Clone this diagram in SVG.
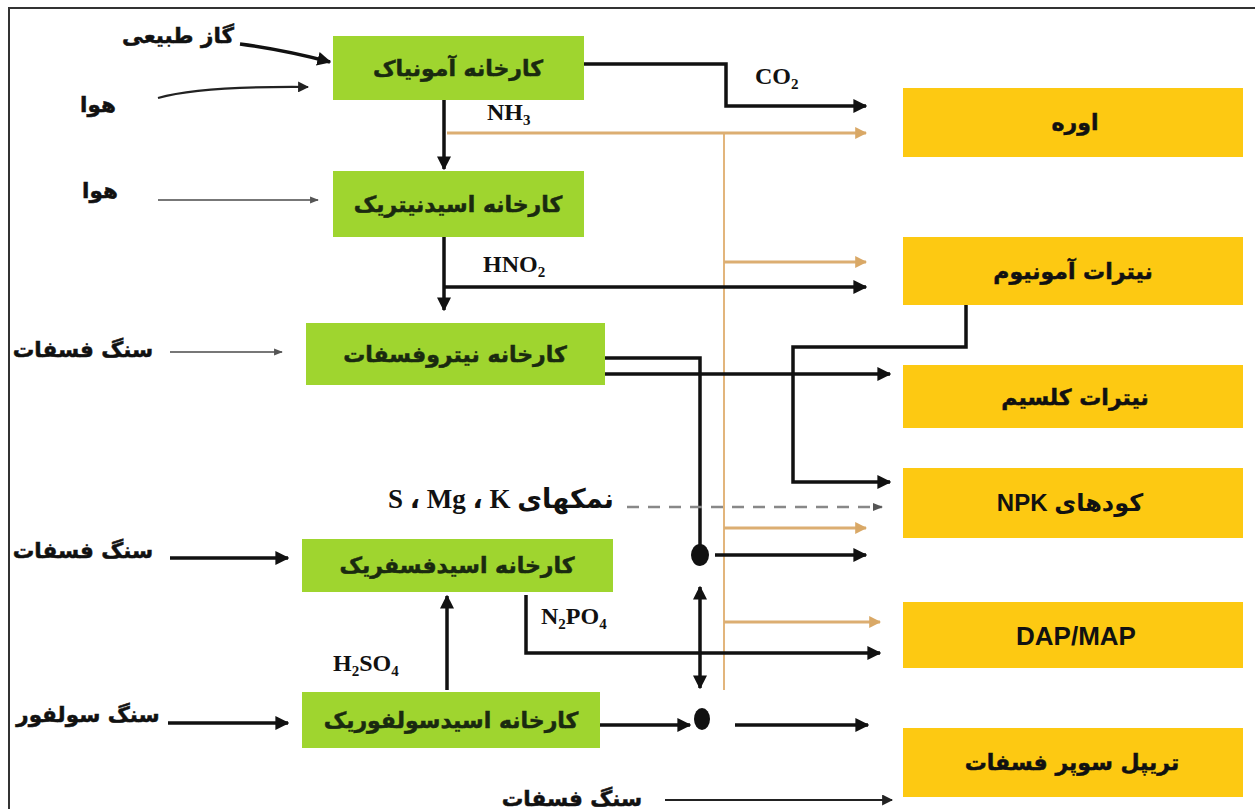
<svg xmlns="http://www.w3.org/2000/svg" width="1255" height="809" viewBox="0 0 1255 809">
<style>
.g{fill:#9fd52f}
.y{fill:#fdc912}
.fa{font-family:"DejaVu Sans",sans-serif;font-weight:bold;fill:#111;stroke:#111;stroke-width:0.5}
.bt{font-size:22px;text-anchor:middle;fill:#1a2a10;stroke:#1a2a10}
.yt{font-size:22px;text-anchor:middle}
.lb{font-size:21.5px;text-anchor:middle}
.chem{font-family:"Liberation Serif","DejaVu Sans",serif;font-weight:bold;font-size:24px;fill:#111}
.k{fill:none;stroke:#111;stroke-width:3.5}
.kt{fill:none;stroke:#222;stroke-width:2.2}
.gr{fill:none;stroke:#777;stroke-width:2.2}
.tan{fill:none;stroke:#dcae72;stroke-width:3}
.tanv{fill:none;stroke:#e2b57c;stroke-width:2}
</style>
<defs>
<marker id="ak" viewBox="0 0 10 10" refX="9" refY="5" markerWidth="4" markerHeight="4" orient="auto" markerUnits="strokeWidth"><path d="M0,0 L10,5 L0,10 z" fill="#111"/></marker>
<marker id="akt" viewBox="0 0 10 10" refX="9" refY="5" markerWidth="5" markerHeight="5" orient="auto" markerUnits="strokeWidth"><path d="M0,0 L10,5 L0,10 z" fill="#222"/></marker>
<marker id="ag" viewBox="0 0 10 10" refX="9" refY="5" markerWidth="4" markerHeight="4" orient="auto" markerUnits="strokeWidth"><path d="M0,1 L10,5 L0,9 z" fill="#555"/></marker>
<marker id="at" viewBox="0 0 10 10" refX="9" refY="5" markerWidth="4" markerHeight="4" orient="auto" markerUnits="strokeWidth"><path d="M0,0 L10,5 L0,10 z" fill="#d9a866"/></marker>
<marker id="akr" viewBox="0 0 10 10" refX="1" refY="5" markerWidth="4" markerHeight="4" orient="auto" markerUnits="strokeWidth"><path d="M10,0 L0,5 L10,10 z" fill="#111"/></marker>
</defs>
<rect width="1255" height="809" fill="#fff"/>
<path d="M9,809 L9,8 L1255,8" fill="none" stroke="#333" stroke-width="2"/>

<g id="connectors">
<path class="tanv" d="M724,133 L724,690"/>
<path class="tan" d="M447,133 L866,133" marker-end="url(#at)"/>
<path class="tan" d="M724,262 L866,262" marker-end="url(#at)"/>
<path class="tan" d="M724,528 L866,528" marker-end="url(#at)"/>
<path class="tan" d="M724,622 L880,622" marker-end="url(#at)"/>
<path class="k" d="M240,44 Q285,50 330,62" marker-end="url(#ak)"/>
<path class="kt" d="M158,98 Q200,86 308,87" marker-end="url(#akt)"/>
<path class="gr" d="M158,200 L318,200" marker-end="url(#ag)"/>
<path class="gr" d="M170,352 L282,352" marker-end="url(#ag)"/>
<path class="k" d="M170,558 L288,558" marker-end="url(#ak)"/>
<path class="k" d="M168,723 L288,723" marker-end="url(#ak)"/>
<path class="kt" d="M665,800 L892,800" marker-end="url(#akt)"/>
<path class="k" d="M444,100 L444,169" marker-end="url(#ak)"/>
<path class="k" d="M584,64 L726,64 L726,106 L866,106" marker-end="url(#ak)"/>
<path class="k" d="M444,237 L444,310" marker-end="url(#ak)"/>
<path class="k" d="M444,287 L866,287" marker-end="url(#ak)"/>
<path class="k" d="M605,358 L700,358 L700,548"/>
<path class="k" d="M605,374 L890,374" marker-end="url(#ak)"/>
<path class="k" d="M966,305 L966,347 L793,347 L793,482 L890,482" marker-end="url(#ak)"/>
<path d="M627,507 L882,507" fill="none" stroke="#888" stroke-width="2.5" stroke-dasharray="12,9" marker-end="url(#ag)"/>
<ellipse cx="700" cy="555" rx="9" ry="11" fill="#111"/>
<path class="k" d="M715,555 L866,555" marker-end="url(#ak)"/>
<path class="k" d="M526,595 L526,653 L880,653" marker-end="url(#ak)"/>
<path class="k" d="M700,587 L700,688" marker-start="url(#akr)" marker-end="url(#ak)"/>
<path class="k" d="M447,690 L447,596" marker-end="url(#ak)"/>
<path class="k" d="M600,725 L690,725" marker-end="url(#ak)"/>
<ellipse cx="702" cy="719" rx="8" ry="11" fill="#111"/>
<path class="k" d="M735,725 L868,725" marker-end="url(#ak)"/>
</g>

<g id="labels">
<text class="fa lb" x="178" y="43">گاز طبیعی</text>
<text class="fa lb" x="98" y="112">هوا</text>
<text class="fa lb" x="100" y="198">هوا</text>
<text class="fa lb" x="83" y="357">سنگ فسفات</text>
<text class="fa lb" x="83" y="558">سنگ فسفات</text>
<text class="fa lb" x="88" y="722">سنگ سولفور</text>
<text class="fa lb" x="572" y="806">سنگ فسفات</text>
<text class="chem" x="755" y="84">CO<tspan font-size="15" dy="5">2</tspan></text>
<text class="chem" x="487" y="120">NH<tspan font-size="15" dy="5">3</tspan></text>
<text class="chem" x="483" y="272">HNO<tspan font-size="15" dy="5">2</tspan></text>
<text class="chem" x="541" y="624">N<tspan font-size="15" dy="5">2</tspan><tspan dy="-5">PO</tspan><tspan font-size="15" dy="5">4</tspan></text>
<text class="chem" x="333" y="671">H<tspan font-size="15" dy="5">2</tspan><tspan dy="-5">SO</tspan><tspan font-size="15" dy="5">4</tspan></text>
<text class="chem" x="614" y="508" direction="rtl" text-anchor="start" style="font-size:27px">نمکهای K&#x200F; ، Mg&#x200F; ، S</text>
</g>

<g id="n-ammonia"><rect class="g" x="333" y="36" width="251" height="64"/><text class="fa bt" x="458" y="76">کارخانه آمونیاک</text></g>
<g id="n-nitric"><rect class="g" x="333" y="171" width="251" height="66"/><text class="fa bt" x="458" y="212">کارخانه اسیدنیتریک</text></g>
<g id="n-nitrophosphate"><rect class="g" x="306" y="323" width="299" height="62"/><text class="fa bt" x="455" y="362">کارخانه نیتروفسفات</text></g>
<g id="n-phosphoric"><rect class="g" x="302" y="539" width="311" height="53"/><text class="fa bt" x="457" y="573">کارخانه اسیدفسفریک</text></g>
<g id="n-sulfuric"><rect class="g" x="302" y="692" width="298" height="56"/><text class="fa bt" x="451" y="728">کارخانه اسیدسولفوریک</text></g>

<g id="p-urea"><rect class="y" x="903" y="88" width="340" height="69"/><text class="fa yt" x="1075" y="130">اوره</text></g>
<g id="p-an"><rect class="y" x="903" y="237" width="340" height="68"/><text class="fa yt" x="1073" y="279">نیترات آمونیوم</text></g>
<g id="p-cn"><rect class="y" x="903" y="365" width="340" height="63"/><text class="fa yt" x="1075" y="405">نیترات کلسیم</text></g>
<g id="p-npk"><rect class="y" x="903" y="468" width="340" height="70"/><text class="yt" x="1070" y="511" direction="rtl" style="font-family:'Liberation Sans','DejaVu Sans',sans-serif;font-weight:bold;font-size:24px;fill:#111">کودهای NPK</text></g>
<g id="p-dap"><rect class="y" x="903" y="602" width="340" height="66"/><text class="yt" x="1076" y="645" style="font-family:'Liberation Sans',sans-serif;font-weight:bold;font-size:26px;fill:#111">DAP/MAP</text></g>
<g id="p-tsp"><rect class="y" x="903" y="728" width="340" height="69"/><text class="fa yt" x="1072" y="770">تریپل سوپر فسفات</text></g>
</svg>
